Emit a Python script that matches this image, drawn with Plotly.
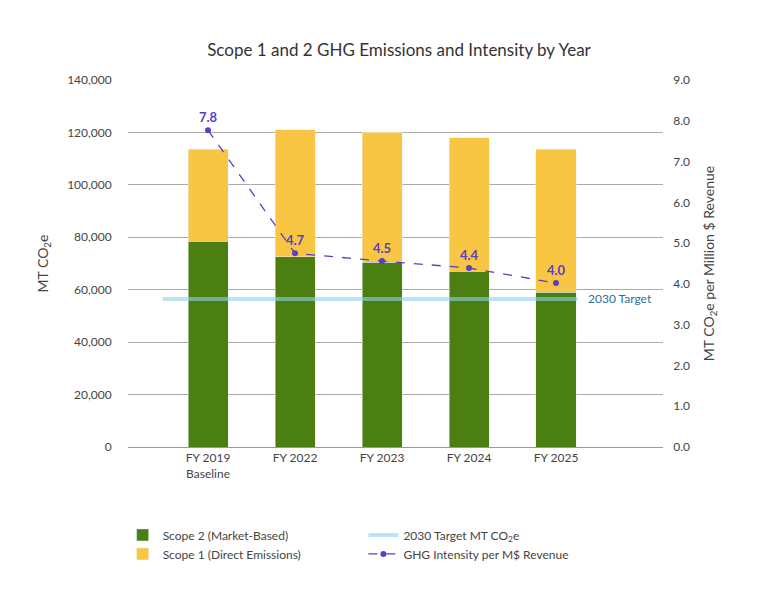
import plotly.graph_objects as go

years = ["FY 2019<br>Baseline", "FY 2022", "FY 2023", "FY 2024", "FY 2025"]
scope2 = [78500, 72500, 70500, 67000, 59000]
scope1 = [35000, 48500, 49500, 51000, 54500]
intensity = [7.77, 4.75, 4.56, 4.39, 4.02]
intensity_labels = ["7.8", "4.7", "4.5", "4.4", "4.0"]
target = 56500
xs = list(range(len(years)))

FONT = "Lato"
fig = go.Figure()
fig.add_bar(x=xs, y=scope2, name="Scope 2 (Market-Based)", marker_color="#4b7f12", width=0.46, legend="legend")
fig.add_bar(x=xs, y=scope1, name="Scope 1 (Direct Emissions)", marker_color="#f8c642", width=0.46, legend="legend")
fig.add_scatter(x=[-0.52, 4.25], y=[target, target], mode="lines", name="2030 Target MT CO<sub>2</sub>e",
                line=dict(color="rgba(140,210,235,0.6)", width=4), legend="legend2")
fig.add_scatter(x=xs, y=intensity, yaxis="y2", mode="lines+markers+text", name="GHG Intensity per M$ Revenue",
                line=dict(color="#5b3fc4", width=1.3, dash="dash"), marker=dict(size=6, color="#5b3fc4"),
                text=intensity_labels, textposition="top center",
                textfont=dict(color="#5b3fc4", size=13, family=FONT, weight="bold"), legend="legend2")
fig.add_annotation(x=4.35, y=target, text="2030 Target", showarrow=False, xanchor="left",
                   font=dict(color="#2a6f9a", size=12, family=FONT))
fig.update_layout(
    width=782, height=600, barmode="stack", plot_bgcolor="white", paper_bgcolor="white",
    font=dict(family=FONT, color="#444", size=12),
    title=dict(text="Scope 1 and 2 GHG Emissions and Intensity by Year", x=0.5, xanchor="center",
               y=0.93, yanchor="middle", font=dict(size=17, color="#333")),
    margin=dict(l=120, r=127, t=72, b=161, autoexpand=False),
    xaxis=dict(range=[-0.92, 5.23], tickvals=xs, ticktext=years, showgrid=False, showline=True,
               linecolor="#999", ticks=""),
    yaxis=dict(range=[0, 140000], dtick=20000, tickformat=",", gridcolor="#aaa", zeroline=False,
               title=dict(text="MT CO<sub>2</sub>e", font=dict(size=14)), ticksuffix="     "),
    yaxis2=dict(range=[0, 9], dtick=1, tickformat=".1f", overlaying="y", side="right", showgrid=False,
                title=dict(text="MT CO<sub>2</sub>e per Million $ Revenue", font=dict(size=14)), tickprefix="   "),
    legend=dict(x=-0.01, y=-0.2, xanchor="left", yanchor="top", traceorder="normal",
                font=dict(size=12), tracegroupgap=6),
    legend2=dict(x=0.44, y=-0.2, xanchor="left", yanchor="top", traceorder="normal",
                 font=dict(size=12), tracegroupgap=6),
)
fig.write_html("out.html")
